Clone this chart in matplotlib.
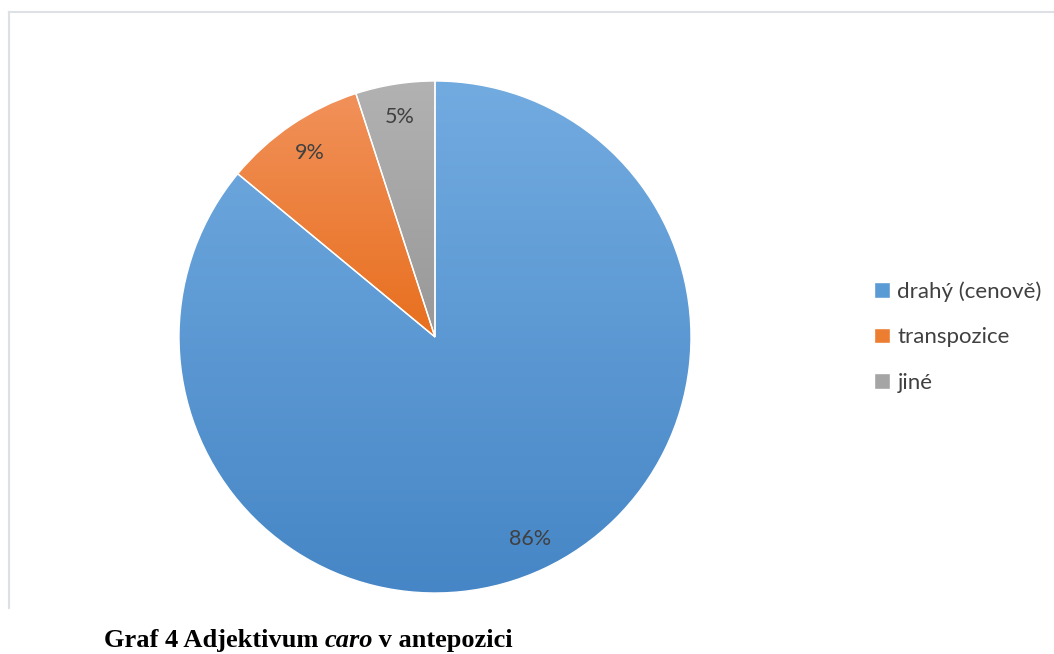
import numpy as np
import matplotlib
matplotlib.use("Agg")
import matplotlib.pyplot as plt
from matplotlib.colors import LinearSegmentedColormap
from matplotlib.lines import Line2D
from matplotlib.patches import Wedge

labels = ["drahý (cenově)", "transpozice", "jiné"]
shares = [86, 9, 5]
# light (top) and dark (bottom) ends of each slice's fill
top_colors = ["#72abe0", "#f1915a", "#b2b2b2"]
bottom_colors = ["#4686c6", "#e86f1e", "#989898"]
mid_colors = ["#5b9bd5", "#ed7d31", "#a5a5a5"]

W, H = 1054, 654
fig = plt.figure(figsize=(W / 100, H / 100), dpi=100)
fig.patch.set_facecolor("white")

# pie axes: centre (435, 337) px, radius 256 px
cx, cy, r = 435, 337, 256
ax = fig.add_axes([(cx - r) / W, (H - cy - r) / H, 2 * r / W, 2 * r / H])
ax.set_aspect("equal")
ax.axis("off")

wedges, texts, autotexts = ax.pie(
    shares, colors=mid_colors, startangle=90, counterclock=False, radius=1,
    autopct="%d%%", pctdistance=0.87,
    wedgeprops=dict(edgecolor="white", linewidth=1.0),
    textprops=dict(family="Lato", fontsize=15.5, color="#404040"),
)
for t in autotexts:
    t.set_zorder(5)

# vertical gradient inside each slice, clipped to the wedge outline
grad = np.linspace(0, 1, 256).reshape(-1, 1)
for w, c0, c1 in zip(wedges, top_colors, bottom_colors):
    verts = w.get_path().vertices
    x0, x1 = verts[:, 0].min(), verts[:, 0].max()
    y0, y1 = verts[:, 1].min(), verts[:, 1].max()
    cmap = LinearSegmentedColormap.from_list("g", [c0, c1])
    im = ax.imshow(grad, cmap=cmap, extent=[x0, x1, y0, y1], origin="upper",
                   aspect="auto", zorder=w.get_zorder() + 0.1, interpolation="bilinear")
    im.set_clip_path(w)
    ax.add_patch(Wedge(w.center, w.r, w.theta1, w.theta2, facecolor="none",
                       edgecolor="white", linewidth=1.0, zorder=w.get_zorder() + 0.2))
ax.set_xlim(-1.0, 1.0)
ax.set_ylim(-1.0, 1.0)

# legend
leg = fig.legend(wedges, labels, loc="center left", bbox_to_anchor=(854 / W, 1 - 337 / H),
                 frameon=False, handlelength=0.7, handleheight=0.7, handletextpad=0.35,
                 labelspacing=1.15, prop=dict(family="Lato", size=16))
for t in leg.get_texts():
    t.set_color("#404040")

# chart frame (top and left edges visible)
frame_c = "#dde1e6"
fig.add_artist(Line2D([9 / W, 1.0], [1 - 12 / H, 1 - 12 / H], color=frame_c, lw=1.5))
fig.add_artist(Line2D([9 / W, 9 / W], [1 - 12 / H, 1 - 608 / H], color=frame_c, lw=1.5))

# caption with italic word
renderer = fig.canvas.get_renderer()
parts = [("Graf 4 Adjektivum ", "normal", 0), ("caro", "italic", -1), (" v antepozici", "normal", 0)]
x = 104 / W
y = 1 - 647 / H
for s, style, nudge in parts:
    t = fig.text(x, y, s, family="Liberation Serif", weight="bold", style=style,
                 fontsize=19, color="black", va="baseline", ha="left")
    bb = t.get_window_extent(renderer)
    x += (bb.width + nudge) / W

fig.savefig("out.png", dpi=100)
